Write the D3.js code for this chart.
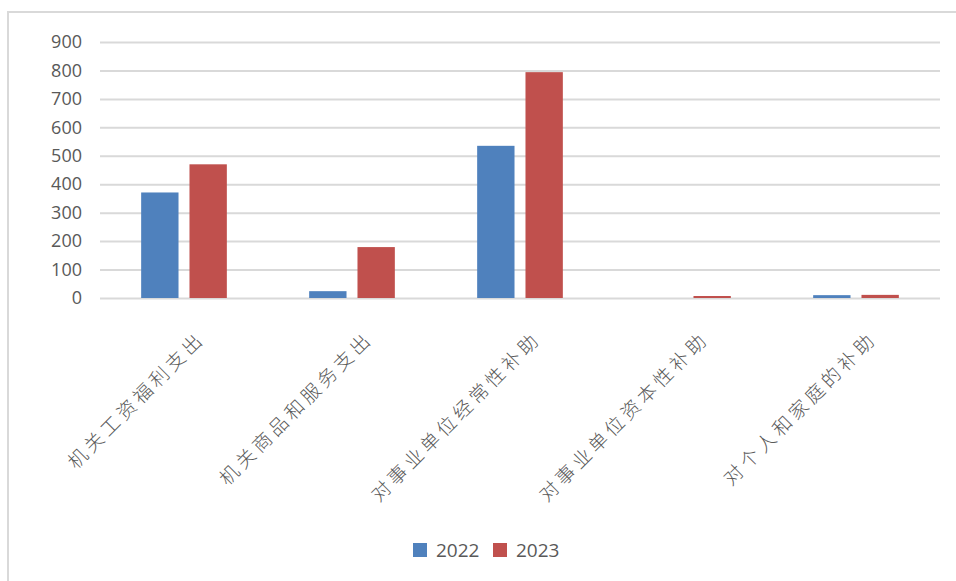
<!DOCTYPE html>
<html lang='zh'>
  <head>
    <meta charset='utf-8'>
    <style type='text/css'>
      body {margin: 0; background-color: #fff;}
      #chart {width: 956px; height: 581px;}
    </style>
  </head>
  <body>
    <div id='chart'><svg width='956' height='581'></svg></div>

    <script src='https://d3js.org/d3.v7.min.js'></script>
    <script type='text/javascript'>
        // data
        var categories = ["机关工资福利支出", "机关商品和服务支出", "对事业单位经常性补助", "对事业单位资本性补助", "对个人和家庭的补助"];
        var series = ["2022", "2023"];
        var values2022 = [371, 24, 535, 0, 10];
        var values2023 = [470, 179, 794, 7, 11];
        var yTicks = [0, 100, 200, 300, 400, 500, 600, 700, 800, 900];
        var colors = ["#4f81bd", "#c0504d"];

        var svg = d3.select("#chart svg");

        // outer frame (only top and left edges visible in the crop)
        svg.append("path")
            .attr("d", "M8,582 L8,12 L957,12")
            .attr("fill", "none")
            .attr("stroke", "#d9d9d9")
            .attr("stroke-width", 2);

        var plot = {left: 100, right: 940, top: 42, bottom: 298};

        var x0 = d3.scaleBand().domain(categories).range([plot.left, plot.right]);
        var bw = x0.bandwidth();
        var x1 = d3.scaleBand().domain(series)
            .range([0.245 * bw, 0.755 * bw])
            .paddingInner(0.227);
        var y = d3.scaleLinear().domain([0, 900]).range([plot.bottom, plot.top]);

        // gridlines + tick labels
        var yAxis = svg.append("g")
            .attr("transform", "translate(" + plot.left + ",0)")
            .call(d3.axisLeft(y).tickValues(yTicks).tickSize(-(plot.right - plot.left)).tickPadding(18));
        yAxis.select(".domain").remove();
        yAxis.selectAll(".tick line").attr("stroke", "#d9d9d9").attr("stroke-width", 2);
        yAxis.selectAll(".tick text")
            .attr("fill", "#595959")
            .style("font-family", "'Open Sans', sans-serif")
            .style("font-size", "18px");

        // bars
        var table = categories.map(function(c, i) {
            return {cat: c, vals: [values2022[i], values2023[i]]};
        });
        var groups = svg.selectAll(".grp")
          .data(table)
          .enter().append("g")
            .attr("class", "grp")
            .attr("transform", function(d) { return "translate(" + x0(d.cat) + ",0)"; });
        groups.selectAll("rect")
          .data(function(d) { return d.vals.map(function(v, j) { return {s: series[j], v: v, j: j}; }); })
          .enter().append("rect")
            .attr("x", function(d) { return x1(d.s); })
            .attr("y", function(d) { return y(d.v); })
            .attr("width", x1.bandwidth())
            .attr("height", function(d) { return plot.bottom - y(d.v); })
            .attr("fill", function(d) { return colors[d.j]; });

        // rotated category labels
        svg.selectAll(".cat")
          .data(categories)
          .enter().append("text")
            .attr("class", "cat")
            .attr("transform", function(d) {
                return "translate(" + (x0(d) + bw / 2 + 22) + "," + (plot.bottom + 42) + ") rotate(-45)";
            })
            .attr("text-anchor", "end")
            .attr("fill", "#595959")
            .style("font-family", "'Noto Sans CJK SC', sans-serif")
            .style("font-size", "19px")
            .style("font-weight", "300")
            .style("letter-spacing", "4px")
            .text(function(d) { return d; });

        // legend
        var legend = svg.append("g").attr("transform", "translate(413,543)");
        var lx = [0, 80];
        series.forEach(function(s, i) {
            var g = legend.append("g").attr("transform", "translate(" + lx[i] + ",0)");
            g.append("rect").attr("width", 14).attr("height", 14).attr("fill", colors[i]);
            g.append("text")
                .attr("x", 23).attr("y", 14)
                .attr("fill", "#595959")
                .style("font-family", "'Open Sans', sans-serif")
                .style("font-size", "19px")
                .text(s);
        });
    </script>
  </body>
</html>
